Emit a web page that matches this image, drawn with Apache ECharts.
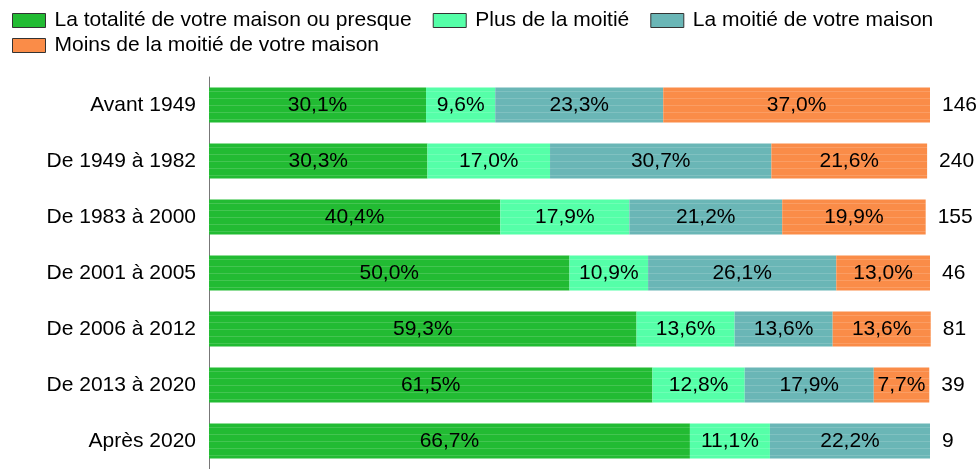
<!DOCTYPE html>
<html>
    <head>
        <meta http-equiv="Content-Type" content="text/html; charset=utf-8" />
        <title>periode-construction</title>
        <script type="text/javascript" src="https://cdn.jsdelivr.net/npm/echarts@6/dist/echarts.min.js"></script>
    </head>
    <body style="margin:0;">
        <div style="width:979px;height:469px;" id="chart"></div>
        <script type="text/javascript">
            // catégories (du haut vers le bas)
            var periodes = ['Avant 1949', 'De 1949 à 1982', 'De 1983 à 2000', 'De 2001 à 2005', 'De 2006 à 2012', 'De 2013 à 2020', 'Après 2020'];
            var effectifs = [146, 240, 155, 46, 81, 39, 9];
            var series_names = ['La totalité de votre maison ou presque', 'Plus de la moitié', 'La moitié de votre maison', 'Moins de la moitié de votre maison'];
            var totalite = [30.1, 30.3, 40.4, 50.0, 59.3, 61.5, 66.7];
            var plus_moitie = [9.6, 17.0, 17.9, 10.9, 13.6, 12.8, 11.1];
            var moitie = [23.3, 30.7, 21.2, 26.1, 13.6, 17.9, 22.2];
            var moins_moitie = [37.0, 21.6, 19.9, 13.0, 13.6, 7.7, 0];
            var couleurs = ['#22bb33', '#55ffa8', '#6ab6b6', '#fa8c48'];

            var myChart = echarts.init(document.getElementById('chart'));
            var police = 'Liberation Sans, Arial, sans-serif';
            var taille = 21;

            function serie(nom, valeurs, idx) {
                return {
                    name: nom,
                    type: 'bar',
                    stack: 'total',
                    barWidth: 35,
                    clip: false,
                    data: valeurs,
                    itemStyle: {
                        color: couleurs[idx],
                        decal: {  // fines rayures claires dans les barres
                            symbol: 'rect',
                            symbolSize: 1,
                            color: 'rgba(255,255,255,0.15)',
                            dashArrayX: [[1, 0]],
                            dashArrayY: [1, 6],
                            rotation: 0
                        }
                    },
                    label: {
                        show: true,
                        position: 'inside',
                        color: '#000',
                        fontFamily: police,
                        fontSize: taille,
                        formatter: function (p) {
                            if (!p.value) return '';
                            return p.value.toFixed(1).replace('.', ',') + '%';
                        }
                    }
                };
            }

            var legende = function (noms, haut) {
                return {
                    left: 12,
                    top: haut,
                    itemWidth: 33,
                    itemHeight: 14,
                    itemGap: 21,
                    padding: 0,
                    icon: 'rect',
                    data: noms,
                    itemStyle: { borderColor: '#333', borderWidth: 1, decal: 'none' },
                    textStyle: { fontFamily: police, fontSize: taille, color: '#000', padding: [0, 0, 0, 4] }
                };
            };

            var option = {
                animation: false,
                backgroundColor: '#fff',
                legend: [
                    legende(series_names.slice(0, 3), 10),
                    legende(series_names.slice(3), 35)
                ],
                grid: { left: 209, right: 49, top: 77, bottom: -8, containLabel: false },
                xAxis: {
                    type: 'value',
                    min: 0,
                    max: 100,
                    show: false
                },
                yAxis: {
                    type: 'category',
                    inverse: true,
                    data: periodes,
                    axisLine: { show: true, lineStyle: { color: '#777', width: 1 } },
                    axisTick: { show: false },
                    axisLabel: { margin: 13, color: '#000', fontFamily: police, fontSize: taille }
                },
                series: [
                    serie(series_names[0], totalite, 0),
                    serie(series_names[1], plus_moitie, 1),
                    serie(series_names[2], moitie, 2),
                    serie(series_names[3], moins_moitie, 3),
                    {
                        // effectifs affichés au bout de chaque barre
                        name: 'effectifs',
                        type: 'bar',
                        stack: 'total',
                        barWidth: 35,
                        silent: true,
                        clip: false,
                        data: effectifs.map(function (n) { return { value: 0, n: n }; }),
                        label: {
                            show: true,
                            position: 'right',
                            distance: 12,
                            color: '#000',
                            fontFamily: police,
                            fontSize: taille,
                            formatter: function (p) { return String(p.data.n); }
                        }
                    }
                ]
            };
            myChart.setOption(option);
        </script>
    </body>
</html>
